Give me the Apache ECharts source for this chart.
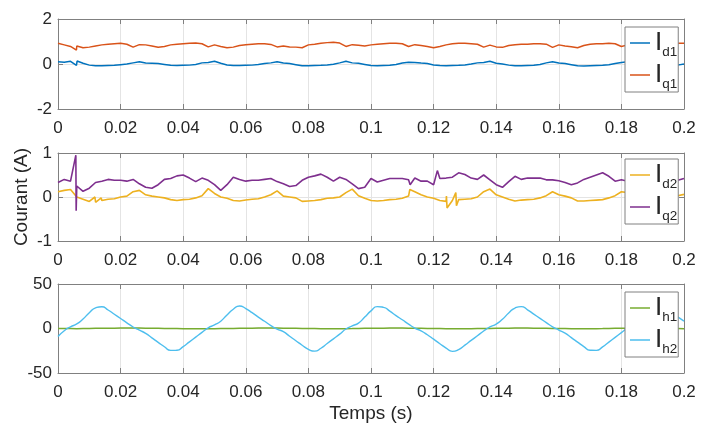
<!DOCTYPE html>
<html><head><meta charset="utf-8">
<script src="https://cdn.jsdelivr.net/npm/echarts@6/dist/echarts.min.js"></script>
<style>html,body{margin:0;padding:0;background:#fff}#c{width:701px;height:426px}</style>
</head><body><div id="c"></div><script>
// sampling step of the hand-read values (s)
const step = 0.002;
const xTickLabels = ['0','0.02','0.04','0.06','0.08','0.1','0.12','0.14','0.16','0.18','0.2'];
const yTicks1 = [-2, 0, 2];
const yTicks2 = [-1, 0, 1];
const yTicks3 = [-50, 0, 50];

const Id1 = [0.10,0.08,0.12,0.04,0.03,-0.05,-0.08,-0.08,-0.07,-0.06,
 -0.03,0.00,0.05,0.10,0.04,0.03,0.02,-0.02,-0.06,-0.07,
 -0.06,-0.05,-0.02,0.05,0.07,0.12,0.03,-0.04,-0.07,-0.07,
 -0.06,-0.05,-0.02,0.02,0.05,0.10,0.04,0.02,-0.03,-0.08,
 -0.08,-0.07,-0.06,-0.04,-0.01,0.05,0.12,0.05,0.03,-0.02,
 -0.07,-0.08,-0.07,-0.06,-0.02,0.04,0.08,0.07,0.04,0.02,
 -0.04,-0.07,-0.08,-0.07,-0.06,-0.04,0.00,0.05,0.07,0.12,
 0.03,0.00,-0.05,-0.08,-0.08,-0.07,-0.06,-0.02,0.05,0.10,
 0.04,0.02,-0.03,-0.08,-0.09,-0.08,-0.07,-0.06,-0.03,0.02,
 0.07,0.10,0.05,0.03,0.00,-0.05,-0.07,-0.08,-0.07,-0.05,
 0.00];
const Id1Spikes = [[0.0059,-0.06],[0.0061,0.13]];

const Iq1 = [0.92,0.85,0.78,0.80,0.72,0.75,0.80,0.85,0.88,0.90,
 0.92,0.88,0.75,0.86,0.85,0.80,0.74,0.78,0.85,0.88,
 0.90,0.92,0.93,0.90,0.76,0.85,0.78,0.72,0.75,0.82,
 0.86,0.88,0.90,0.90,0.87,0.76,0.80,0.76,0.75,0.72,
 0.85,0.88,0.92,0.95,0.97,0.93,0.78,0.86,0.83,0.80,
 0.85,0.88,0.90,0.92,0.92,0.90,0.78,0.86,0.82,0.78,
 0.72,0.78,0.85,0.90,0.92,0.92,0.90,0.88,0.75,0.84,
 0.76,0.74,0.82,0.86,0.88,0.88,0.90,0.90,0.88,0.74,
 0.85,0.80,0.77,0.72,0.82,0.88,0.90,0.90,0.92,0.90,
 0.78,0.85,0.80,0.76,0.75,0.82,0.86,0.88,0.90,0.92,
 0.92];
const Iq1Spikes = [[0.0059,0.62],[0.0061,0.86]];

const Id2 = [0.12,0.15,0.17,0.00,-0.05,-0.10,-0.12,-0.08,-0.05,-0.04,
 0.00,0.02,0.12,0.15,0.05,0.02,0.00,-0.02,-0.06,-0.08,
 -0.06,-0.05,-0.02,0.03,0.19,0.08,0.00,-0.03,-0.08,-0.09,
 -0.07,-0.05,-0.04,0.00,0.05,0.14,0.02,0.00,-0.02,-0.10,
 -0.09,-0.08,-0.06,-0.03,-0.02,0.00,0.10,0.18,0.03,-0.03,
 -0.08,-0.09,-0.08,-0.06,-0.05,-0.03,0.02,0.12,0.05,0.00,
 -0.03,-0.08,-0.10,-0.08,-0.06,-0.05,-0.04,0.00,0.12,0.18,
 0.05,0.00,-0.05,-0.09,-0.07,-0.06,-0.05,-0.02,0.03,0.12,
 0.05,0.02,-0.02,-0.09,-0.09,-0.08,-0.07,-0.06,-0.02,0.03,
 0.12,0.10,0.02,0.00,-0.03,-0.06,-0.04,-0.02,0.00,0.03,
 0.06];
const Id2Spikes = [[0.0118,0.00],[0.0121,-0.16],[0.0138,-0.02],[0.1124,0.17],
 [0.1241,0.02],[0.1243,-0.25],[0.1271,0.10],[0.1273,-0.20]];

const Iq2 = [0.33,0.40,0.36,0.25,0.13,0.20,0.33,0.36,0.40,0.38,
 0.38,0.36,0.40,0.30,0.22,0.20,0.28,0.40,0.42,0.48,
 0.50,0.43,0.35,0.43,0.38,0.28,0.15,0.28,0.45,0.40,
 0.36,0.38,0.38,0.40,0.42,0.35,0.30,0.24,0.26,0.38,
 0.45,0.48,0.52,0.45,0.36,0.45,0.40,0.30,0.19,0.22,
 0.42,0.34,0.38,0.42,0.42,0.42,0.39,0.43,0.36,0.36,
 0.28,0.42,0.43,0.45,0.55,0.51,0.43,0.40,0.50,0.39,
 0.28,0.22,0.35,0.47,0.40,0.43,0.43,0.43,0.39,0.39,
 0.37,0.33,0.28,0.32,0.40,0.45,0.50,0.55,0.47,0.36,
 0.39,0.36,0.30,0.25,0.30,0.40,0.45,0.42,0.40,0.38,
 0.42];
const Iq2Spikes = [[0.0057,0.95],[0.0058,-0.31],[0.1125,0.28],[0.1212,0.60]];

const Ih1 = [0.1,0.0,-0.1,-0.2,-0.1,0.0,0.2,0.3,0.4,0.4,
 0.5,0.5,0.5,0.5,0.4,0.3,0.2,0.1,0.0,-0.1,
 -0.2,-0.3,-0.3,-0.3,-0.3,-0.2,-0.1,0.0,0.1,0.2,
 0.3,0.4,0.5,0.5,0.5,0.5,0.4,0.3,0.2,0.1,
 0.0,-0.1,-0.2,-0.3,-0.3,-0.2,-0.2,-0.1,0.1,0.2,
 0.3,0.4,0.4,0.5,0.5,0.5,0.4,0.3,0.2,0.1,
 0.0,-0.1,-0.2,-0.3,-0.3,-0.3,-0.2,-0.1,0.0,0.1,
 0.2,0.3,0.4,0.5,0.5,0.5,0.4,0.3,0.2,0.1,
 0.0,-0.1,-0.2,-0.3,-0.3,-0.2,-0.2,-0.1,0.1,0.2,
 0.3,0.4,0.4,0.5,0.4,0.3,0.2,0.1,0.0,-0.1,
 -0.2];

const Ih2 = [-9.0,-2.5,1.9,5.1,10.7,17.7,23.2,24.5,20.8,16.0,
 11.2,6.4,1.7,-1.9,-5.4,-10.5,-15.6,-20.5,-24.6,-24.5,
 -20.3,-15.0,-9.7,-4.4,0.8,4.0,8.2,15.3,21.6,25.3,
 22.4,17.8,12.8,8.1,3.3,-0.7,-3.6,-8.7,-13.8,-18.8,
 -23.4,-25.4,-22.2,-16.9,-11.6,-6.3,-0.6,2.9,6.1,12.8,
 19.8,24.6,23.8,19.5,14.5,9.8,4.9,0.5,-2.7,-7.0,
 -12.0,-17.1,-22.0,-25.7,-23.8,-18.7,-13.4,-8.1,-2.8,1.8,
 5.0,10.4,17.4,23.0,24.6,21.0,16.2,11.4,6.6,1.9,
 -1.7,-5.2,-10.3,-15.3,-20.3,-24.4,-24.6,-20.6,-15.3,-10.0,
 -4.7,0.6,3.8,7.8,14.9,21.4,25.2,22.6,18.0,13.0,
 8.3];

function build(vals, spikes) {
  const pts = vals.map((v, i) => [+(i * step).toFixed(4), v]);
  (spikes || []).forEach(p => pts.push(p));
  pts.sort((a, b) => a[0] - b[0]);
  return pts;
}

const AX = '#808080', TXT = '#262626', GRIDC = '#e4e4e4';
const FONT = '"Liberation Sans", Arial, Helvetica, sans-serif';
const grids = [
  {left: 58, top: 19, width: 626, height: 90},
  {left: 58, top: 153, width: 626, height: 88},
  {left: 58, top: 284, width: 626, height: 89}
];
const yRanges = [yTicks1, yTicks2, yTicks3];
const xAxes = [], yAxes = [];
grids.forEach((g, i) => {
  const base = {
    type: 'value', gridIndex: i, min: 0, max: 0.2, interval: 0.02,
    axisLine: {show: true, onZero: false, lineStyle: {color: AX, width: 1}},
    axisTick: {show: true, inside: true, length: 5, lineStyle: {color: AX}}
  };
  xAxes.push(Object.assign({}, base, {
    position: 'bottom',
    axisLabel: {show: true, fontSize: 17, color: TXT, margin: 11, fontFamily: FONT,
      formatter: v => xTickLabels[Math.round(v / 0.02)]},
    splitLine: {show: true, lineStyle: {color: GRIDC, width: 1}},
    name: i === 2 ? 'Temps (s)' : '', nameLocation: 'middle', nameGap: 31,
    nameMoveOverlap: false,
    nameTextStyle: {fontSize: 19, color: TXT, fontFamily: FONT}
  }));
  xAxes.push(Object.assign({}, base, {
    position: 'top', axisLabel: {show: false}, splitLine: {show: false}
  }));
  const yr = yRanges[i];
  const ybase = {
    type: 'value', gridIndex: i, min: yr[0], max: yr[2], interval: yr[2],
    axisLine: {show: true, onZero: false, lineStyle: {color: AX, width: 1}},
    axisTick: {show: true, inside: true, length: 5, lineStyle: {color: AX}}
  };
  yAxes.push(Object.assign({}, ybase, {
    position: 'left',
    axisLabel: {show: true, fontSize: 17, color: TXT, margin: 6, fontFamily: FONT,
      padding: [4, 0, 0, 0]},
    splitLine: {show: true, lineStyle: {color: GRIDC, width: 1}},
    name: i === 1 ? 'Courant (A)' : '', nameLocation: 'middle', nameGap: 27,
    nameMoveOverlap: false,
    nameTextStyle: {fontSize: 19, color: TXT, fontFamily: FONT}
  }));
  yAxes.push(Object.assign({}, ybase, {
    position: 'right', axisLabel: {show: false}, splitLine: {show: false}
  }));
});

function line(name, data, idx, color, w) {
  return {type: 'line', name, data, xAxisIndex: 2 * idx, yAxisIndex: 2 * idx,
    symbol: 'none', showSymbol: false, animation: false, clip: true,
    lineStyle: {color, width: w || 1.5}, itemStyle: {color}};
}

const series = [
  line('Id1', build(Id1, Id1Spikes), 0, '#0072BD', 1.5),
  line('Iq1', build(Iq1, Iq1Spikes), 0, '#D95319', 1.5),
  line('Id2', build(Id2, Id2Spikes), 1, '#EDB120', 1.6),
  line('Iq2', build(Iq2, Iq2Spikes), 1, '#7E2F8E', 1.6),
  line('Ih1', build(Ih1), 2, '#77AC30', 1.5),
  Object.assign(line('Ih2', build(Ih2), 2, '#4DBEEE', 1.4), {smooth: 0.6})
];

function legend(names, top) {
  return {
    data: names, orient: 'vertical', left: 625, top: top,
    icon: 'rect', itemWidth: 20, itemHeight: 1.5, itemGap: 0, padding: [0, 1, 1, 5],
    backgroundColor: '#fff', borderColor: AX, borderWidth: 1, borderRadius: 0,
    formatter: n => '{i|I}{s|' + n.slice(1) + '}',
    textStyle: {color: TXT, fontFamily: FONT,
      rich: {
        i: {fontSize: 26, lineHeight: 26, color: TXT, fontFamily: FONT},
        s: {fontSize: 13.5, lineHeight: 14, padding: [18, 0, 0, 0], color: TXT, fontFamily: FONT}
      }}
  };
}

const chart = echarts.init(document.getElementById('c'), null, {renderer: 'canvas'});
chart.setOption({
  animation: false,
  backgroundColor: '#fff',
  grid: grids.map(g => Object.assign({show: false, containLabel: false}, g)),
  xAxis: xAxes,
  yAxis: yAxes,
  legend: [legend(['Id1', 'Iq1'], 27), legend(['Id2', 'Iq2'], 159), legend(['Ih1', 'Ih2'], 292)],
  series: series
});
</script></body></html>
